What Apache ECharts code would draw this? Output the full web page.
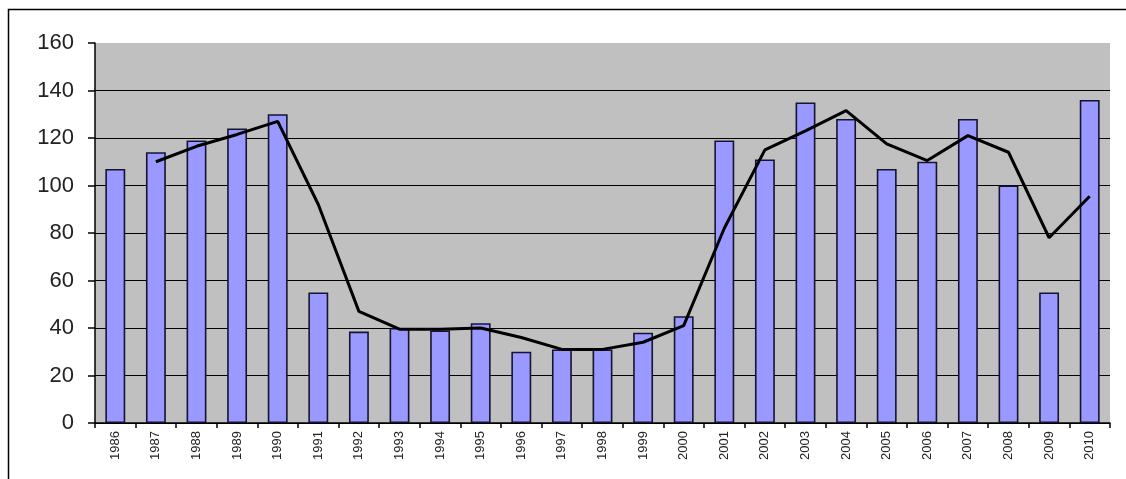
<!DOCTYPE html>
<html>
<head>
<meta charset="utf-8">
<script src="https://cdn.jsdelivr.net/npm/echarts@6/dist/echarts.min.js"></script>
<style>
html,body{margin:0;padding:0;background:#fff;}
#chart{width:1126px;height:479px;}
</style>
</head>
<body>
<div id="chart"></div>
<script>
const years = ['1986','1987','1988','1989','1990','1991','1992','1993','1994','1995','1996','1997','1998','1999','2000','2001','2002','2003','2004','2005','2006','2007','2008','2009','2010'];
const counts = [107,114,119,124,130,55,38.5,40,39,42,30,31,31,38,45,119,111,135,128,107,110,128,100,55,136];
const trend = [null,110,116.5,121.5,127,92,47,39.5,39.5,40,36,31,31,34,41,82,115,123,131.5,117.5,110.5,121,114,78,95.5];
const yTicks = {min:0, max:160, interval:20};

const chart = echarts.init(document.getElementById('chart'), null, {renderer:'canvas'});
chart.setOption({
  animation:false,
  backgroundColor:'#ffffff',
  graphic:[{
    type:'rect', left:6, top:7, shape:{x:0,y:0,width:1140,height:500},
    style:{fill:'none', stroke:'#000', lineWidth:1.5}, silent:true, z:-1
  }],
  grid:{left:95, right:16, top:43, bottom:56, show:true, backgroundColor:'#C0C0C0', borderWidth:0},
  xAxis:{
    type:'category', data:years, boundaryGap:true,
    axisLine:{show:true, lineStyle:{color:'#000', width:1.5}},
    axisTick:{show:true, alignWithLabel:false, length:5, lineStyle:{color:'#000', width:1.5}},
    axisLabel:{rotate:90, fontSize:13, fontFamily:'Liberation Sans', color:'#222', margin:8, interval:0},
    splitLine:{show:false}
  },
  yAxis:{
    type:'value', min:yTicks.min, max:yTicks.max, interval:yTicks.interval,
    axisLine:{show:true, lineStyle:{color:'#000', width:1.5}},
    axisTick:{show:true, length:7, lineStyle:{color:'#000', width:1.5}},
    axisLabel:{fontSize:22, fontFamily:'Liberation Sans', color:'#222', margin:21},
    splitLine:{show:true, showMaxLine:false, lineStyle:{color:'#000', width:1.2}}
  },
  series:[
    {type:'bar', data:counts, barWidth:'49%', itemStyle:{color:'#9999FF', borderColor:'#141432', borderWidth:1.6}, z:2},
    {type:'line', data:trend, showSymbol:false, symbol:'none', connectNulls:false, lineStyle:{color:'#000', width:3}, z:3}
  ]
});
</script>
</body>
</html>
